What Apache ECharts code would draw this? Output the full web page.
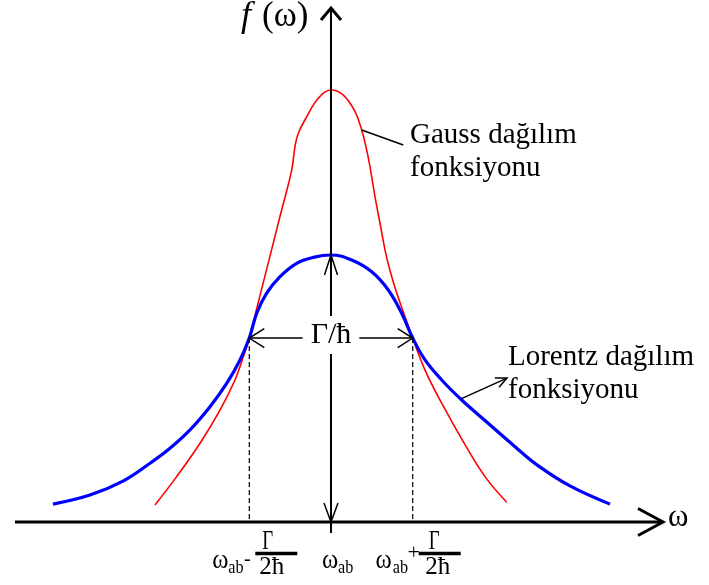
<!DOCTYPE html>
<html>
<head>
<meta charset="utf-8">
<script src="https://cdn.jsdelivr.net/npm/echarts@6/dist/echarts.min.js"></script>
<style>
  html, body { margin: 0; padding: 0; background: #fff; }
  #chart { width: 709px; height: 585px; }
</style>
</head>
<body>
<div id="chart"></div>
<script>
// ω is measured from ω_ab in units of Γ/2ħ; f is scaled so the Lorentz peak is 1.
const gaussOmega = [-2.154, -1.889, -1.603, -1.359, -1.175, -1.073, -1.0, -0.909, -0.808, -0.726, -0.624, -0.481, -0.441,
                    -0.400, -0.297, -0.155, 0, 0.151, 0.294, 0.376, 0.437, 0.477, 0.539, 0.600, 0.682, 0.783, 0.906,
                    1.0, 1.151, 1.355, 1.640, 1.885, 2.151];
const gaussF     = [0.064, 0.170, 0.295, 0.419, 0.532, 0.619, 0.689, 0.800, 0.922, 1.021, 1.145, 1.318, 1.406,
                    1.456, 1.518, 1.587, 1.618, 1.599, 1.537, 1.468, 1.393, 1.331, 1.218, 1.119, 0.990, 0.878, 0.769,
                    0.689, 0.569, 0.445, 0.290, 0.170, 0.074];
const lorentzOmega = [-3.403, -2.950, -2.546, -2.215, -1.971, -1.726, -1.481, -1.277, -1.114, -1.0, -0.909, -0.787,
                      -0.624, -0.420, -0.217, 0, 0.253, 0.498, 0.701, 0.865, 1.0, 1.151, 1.355, 1.600, 1.885, 2.252,
                      2.521, 2.925, 3.415];
const lorentzF     = [0.067, 0.101, 0.153, 0.220, 0.276, 0.345, 0.432, 0.519, 0.607, 0.689, 0.782, 0.857,
                      0.919, 0.969, 0.991, 1.0, 0.981, 0.937, 0.869, 0.782, 0.689, 0.607, 0.532, 0.457, 0.380, 0.282,
                      0.214, 0.135, 0.067];
const tickOmega = [-1, 0, 1];          // ω_ab - Γ/2ħ, ω_ab, ω_ab + Γ/2ħ
const halfLevel = 0.689;               // where the two curves cross
const lorentzPeak = 1.0;
const omegaAxisRange = [-3.868, 4.064];
const fAxisRange = [-0.041, 1.925];
const gaussLeader = [[0.376, 1.468], [0.885, 1.412]];
const lorentzLeader = [[1.590, 0.461], [2.154, 0.539]];

const SERIF = '"Liberation Serif", "Times New Roman", serif';

const chart = echarts.init(document.getElementById('chart'), null, { renderer: 'canvas' });

function zip(xs, ys) { return xs.map((x, i) => [x, ys[i]]); }

// open chevron arrow head at `tip`, pointing away from `from`
function chevron(tip, from, len, half) {
  const dx = tip[0] - from[0], dy = tip[1] - from[1];
  const d = Math.hypot(dx, dy) || 1;
  const ux = dx / d, uy = dy / d;
  const bx = tip[0] - ux * len, by = tip[1] - uy * len;
  return [[bx - uy * half, by + ux * half], tip, [bx + uy * half, by - ux * half]];
}

function renderAnnotations(params, api) {
  const c = p => api.coord(p);
  const black = '#000';
  const kids = [];
  const line = (a, b, w, dash) => kids.push({
    type: 'line', shape: { x1: a[0], y1: a[1], x2: b[0], y2: b[1] },
    style: { stroke: black, lineWidth: w, lineDash: dash || null }
  });
  const head = (pts, w) => kids.push({
    type: 'polyline', shape: { points: pts },
    style: { stroke: black, lineWidth: w, fill: null }
  });

  // ω axis
  const xa = c([omegaAxisRange[0], 0]), xb = c([omegaAxisRange[1], 0]);
  line(xa, xb, 3);
  head(chevron(xb, xa, 25, 13.5), 3);
  // f(ω) axis
  const ya = c([0, fAxisRange[0]]), yb = c([0, fAxisRange[1]]);
  line(ya, yb, 2);
  head(chevron(yb, ya, 12, 10), 3);
  // peak height arrows on the f axis
  const pk = c([0, lorentzPeak]), base = c([0, 0]);
  head(chevron(pk, base, 20, 6.5), 1.5);
  head(chevron(base, pk, 19, 7), 1.5);
  // full width at the crossing level
  const l = c([tickOmega[0], halfLevel]), r = c([tickOmega[2], halfLevel]);
  line(l, r, 1.5);
  head(chevron(l, r, 15, 9.5), 1.5);
  head(chevron(r, l, 15, 9.5), 1.5);
  // drop lines to the ω axis
  line(l, c([tickOmega[0], 0]), 1.2, [5, 3]);
  line(r, c([tickOmega[2], 0]), 1.2, [5, 3]);
  // leader lines to the curve names
  line(c(gaussLeader[0]), c(gaussLeader[1]), 1.5);
  const la = c(lorentzLeader[0]), lb = c(lorentzLeader[1]);
  line(la, lb, 1.5);
  head(chevron(lb, la, 11, 5), 1.5);

  return { type: 'group', children: kids };
}

chart.setOption({
  animation: false,
  backgroundColor: '#fff',
  grid: { left: 4.2, right: 10.35, top: 1.35, bottom: 63 },
  xAxis: { type: 'value', min: -4, max: 4.5, show: false },
  yAxis: { type: 'value', min: 0, max: 1.95, show: false },
  series: [
    {
      name: 'Gauss', type: 'line', smooth: 0.4, showSymbol: false, z: 3,
      data: zip(gaussOmega, gaussF),
      lineStyle: { color: '#ff0000', width: 1.6 }
    },
    {
      name: 'Lorentz', type: 'line', smooth: 0.4, showSymbol: false, z: 4,
      data: zip(lorentzOmega, lorentzF),
      lineStyle: { color: '#0000ff', width: 3.2 }
    },
    {
      type: 'custom', z: 5, silent: true,
      data: [[0, 0]],
      renderItem: renderAnnotations
    }
  ]
});

// Text labels, anchored to the tick positions on the ω axis
const px = v => chart.convertToPixel({ gridIndex: 0 }, [v, 0])[0];
const tL = px(tickOmega[0]), t0 = px(tickOmega[1]), tR = px(tickOmega[2]);

function txt(x, y, text, size, opts) {
  opts = opts || {};
  return {
    type: 'text', z: 100, x: x, y: y,
    scaleX: opts.scaleX || 1,
    style: {
      text: text, fill: '#000',
      font: (opts.italic ? 'italic ' : '') + size + 'px ' + SERIF,
      textAlign: opts.align || 'center', textVerticalAlign: 'middle',
      align: opts.align || 'center', verticalAlign: 'middle',
      backgroundColor: opts.bg || null, padding: opts.padding || 0
    }
  };
}
function bar(x1, x2, y) {
  return { type: 'line', z: 100, shape: { x1: x1, y1: y, x2: x2, y2: y }, style: { stroke: '#000', lineWidth: 3.3 } };
}

const graphics = [
  txt(241, 16.5, 'f', 36, { italic: true, align: 'left' }),
  txt(262, 16.5, '(ω)', 35, { align: 'left' }),
  txt(668, 518.2, 'ω', 31, { align: 'left' }),
  txt(331, 334.9, 'Γ/ħ', 30, { bg: '#fff', padding: [4, 8] }),

  txt(410, 135.2, 'Gauss dağılım', 29, { align: 'left' }),
  txt(410, 168.5, 'fonksiyonu', 29, { align: 'left' }),
  txt(508, 357.2, 'Lorentz dağılım', 29, { align: 'left' }),
  txt(508, 390.5, 'fonksiyonu', 29, { align: 'left' }),

  // ω_ab - Γ/2ħ
  txt(tL - 29, 560.5, 'ω', 28, { scaleX: 0.88 }),
  txt(tL - 21, 568.5, 'ab', 18, { align: 'left', scaleX: 0.9 }),
  txt(tL - 2, 560, '-', 20),
  bar(tL + 6, tL + 48, 553.5),
  txt(tL + 18.5, 541.5, 'Γ', 27, { scaleX: 0.7 }),
  txt(tL + 22.5, 567.5, '2ħ', 25),

  // ω_ab
  txt(t0 - 1, 560.5, 'ω', 28, { scaleX: 0.88 }),
  txt(t0 + 7, 568.5, 'ab', 18, { align: 'left', scaleX: 0.9 }),

  // ω_ab + Γ/2ħ
  txt(tR - 29, 560.5, 'ω', 28, { scaleX: 0.88 }),
  txt(tR - 20, 568.5, 'ab', 18, { align: 'left', scaleX: 0.9 }),
  txt(tR + 1, 553, '+', 22),
  bar(tR + 6, tR + 48, 553.5),
  txt(tR + 21.5, 541.5, 'Γ', 27, { scaleX: 0.7 }),
  txt(tR + 25, 567.5, '2ħ', 25)
];
chart.setOption({ graphic: graphics });
</script>
</body>
</html>
